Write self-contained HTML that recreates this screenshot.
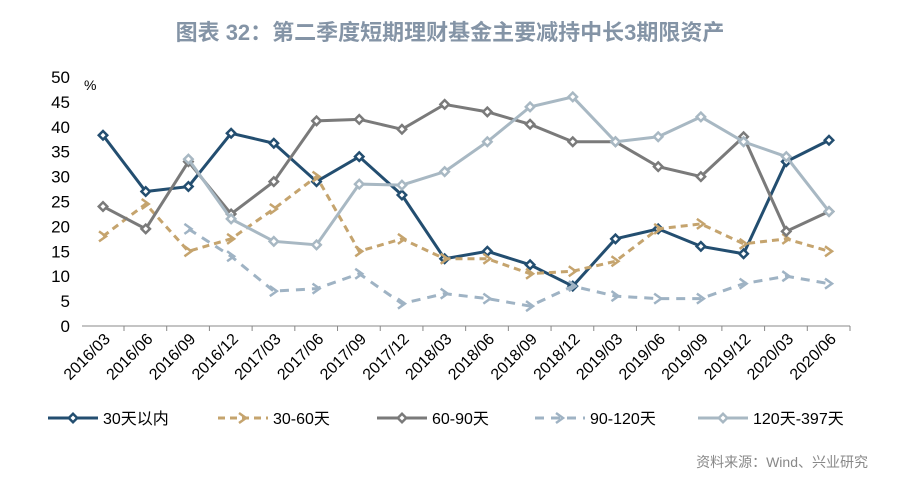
<!DOCTYPE html>
<html><head><meta charset="utf-8"><style>
body{margin:0;background:#fff;width:900px;height:498px;overflow:hidden;font-family:"Liberation Sans","Noto Sans CJK SC",sans-serif}
</style></head><body>
<svg id="c" width="900" height="498" xmlns="http://www.w3.org/2000/svg"></svg>
<script>
const categories=["2016/03","2016/06","2016/09","2016/12","2017/03","2017/06","2017/09","2017/12","2018/03","2018/06","2018/09","2018/12","2019/03","2019/06","2019/09","2019/12","2020/03","2020/06"];
const s30=[38.3,27,28,38.7,36.7,29,34,26.3,13.5,15,12.3,8,17.5,19.5,16,14.5,33,37.3];
const s3060=[18,24.5,15,17.5,23.5,30,15,17.5,13.5,13.5,10.5,11,13,19.5,20.5,16.5,17.5,15];
const s6090=[24,19.5,33,22.5,29,41.2,41.5,39.5,44.5,43,40.5,37,37,32,30,38,19,23];
const s90120=[null,null,19.5,14,7,7.5,10.5,4.5,6.5,5.5,4,8,6,5.5,5.5,8.5,10,8.5];
const s120=[null,null,33.5,21.5,17,16.3,28.5,28.3,31,37,44,46,37,38,42,37,34,23];
const yTicks=[0,5,10,15,20,25,30,35,40,45,50];
const names=["30天以内","30-60天","60-90天","90-120天","120天-397天"];
const NS="http://www.w3.org/2000/svg",svg=document.getElementById('c');
function el(t,a,p){const e=document.createElementNS(NS,t);for(const k in a)e.setAttribute(k,a[k]);(p||svg).appendChild(e);return e;}
const x0=82,x1=850,yB=326,yT=77;
const X=i=>103+i*(829-103)/(categories.length-1);
const Y=v=>yB-(v/50)*(yB-yT);
let t=el('text',{x:450,y:40,'text-anchor':'middle','font-size':22,'font-weight':'bold',fill:'#8494a6'});t.textContent="图表 32：第二季度短期理财基金主要减持中长3期限资产";

yTicks.forEach(v=>{const e=el('text',{x:70,y:Y(v)+6,'text-anchor':'end','font-size':17,fill:'#000'});e.textContent=v;
});
t=el('text',{x:84,y:90,'font-size':14});t.textContent="%";
let ax=el('line',{x1:x0,y1:yB,x2:x1,y2:yB,stroke:'#888','stroke-width':1});

categories.forEach((c,i)=>{
el('line',{x1:X(i)+21,y1:yB,x2:X(i)+21,y2:yB+5,stroke:'#888'});
const e=el('text',{x:X(i)+8,y:yB+14,'text-anchor':'end','font-size':16,transform:`rotate(-45 ${X(i)+8} ${yB+14})`});e.textContent=c;
});
const series=[{d:s30,c:'#234e70',dash:null,m:'d'},{d:s3060,c:'#c5a46e',dash:'7 5',m:'a'},{d:s6090,c:'#7a7a7a',dash:null,m:'d'},{d:s90120,c:'#9fb3c4',dash:'9 7',m:'a'},{d:s120,c:'#a8b8c3',dash:null,m:'d'}];
function marker(m,x,y,c,g){if(m==='d'){el('path',{d:`M${x} ${y-6}L${x+6} ${y}L${x} ${y+6}L${x-6} ${y}Z`,fill:c},g);el('path',{d:`M${x} ${y-2.5}L${x+2.5} ${y}L${x} ${y+2.5}L${x-2.5} ${y}Z`,fill:'#fff'},g);}
else{el('path',{d:`M${x-4} ${y-5}L${x+3} ${y}L${x-4} ${y+5}`,fill:'none',stroke:c,'stroke-width':2.5},g);}}
series.forEach((s,k)=>{const g=el('g',{});
let d='';s.d.forEach((v,i)=>{if(v==null)return;d+=(d?'L':'M')+X(i)+' '+Y(v);});
const a={d:d,fill:'none',stroke:s.c,'stroke-width':3};if(s.dash)a['stroke-dasharray']=s.dash;el('path',a,g);
s.d.forEach((v,i)=>{if(v!=null)marker(s.m,X(i),Y(v),s.c,g);});});
const lx=[48,218,377,535,698];
series.forEach((s,k)=>{const g=el('g',{});
const a={x1:lx[k],y1:418,x2:lx[k]+50,y2:418,stroke:s.c,'stroke-width':3};if(s.dash)a['stroke-dasharray']=s.dash;el('line',a,g);
marker(s.m,lx[k]+25,418,s.c,g);const e=el('text',{x:lx[k]+55,y:424,'font-size':16},g);e.textContent=names[k];});
t=el('text',{x:868,y:467,'text-anchor':'end','font-size':14,fill:'#888'});t.textContent="资料来源：Wind、兴业研究";

</script></body></html>
